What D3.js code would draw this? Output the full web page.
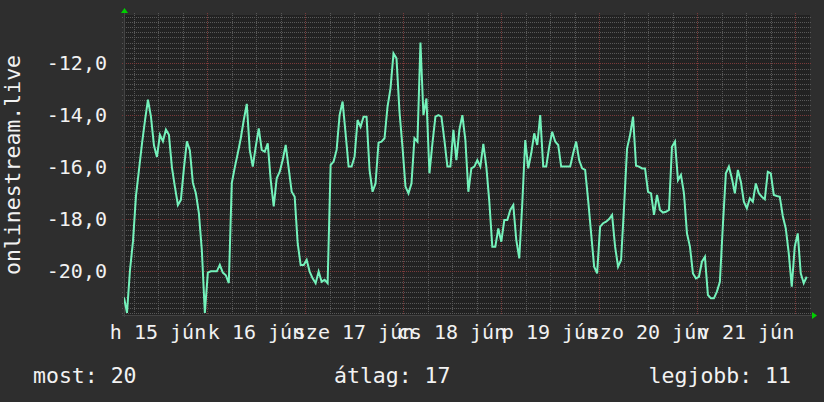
<!DOCTYPE html>
<html>
<head>
<meta charset="utf-8">
<script src="https://cdnjs.cloudflare.com/ajax/libs/d3/7.8.5/d3.min.js"></script>
<style>
  body { margin: 0; background: #2e2e2e; }
  text { font-family: "DejaVu Sans Mono", monospace; fill: #f2f2f2; }
</style>
</head>
<body>
<svg id="chart" width="824" height="402"></svg>
<script>
// onlinestream.live - one week, one sample every 44 minutes
var startTime = new Date(2020, 5, 15, 3, 40);
var endTime = new Date(2020, 5, 22, 3, 40);
var stepMinutes = 44;

var values = [
  -21.0, -21.6, -19.95, -18.85, -17.1, -16.1, -15.1, -14.2, -13.4, -14.05,
  -15.15, -15.6, -14.75, -15.0, -14.55, -14.75, -16.0, -16.75, -17.45, -17.25,
  -16.05, -15.0, -15.35, -16.6, -17.0, -17.75, -19.2, -21.6, -20.05, -20.0,
  -20.0, -20.0, -19.75, -20.05, -20.15, -20.45, -16.6, -16.0,
  // k 16
  -15.46, -14.88, -14.18, -13.56, -15.33, -15.97, -15.2, -14.5, -15.33, -15.4,
  -15.08, -16.5, -17.5, -16.42, -16.17, -15.72, -15.14, -16.04, -16.94, -17.13,
  -18.92, -19.76, -19.76, -19.56, -20.01, -20.27, -20.46, -20.01, -20.4, -20.33,
  -20.46, -15.91, -15.78, -15.33, -13.99, -13.47, -14.69, -15.97,
  // sze 17
  -15.97, -15.59, -14.18, -14.44, -14.05, -14.05, -16.1, -16.94, -16.62, -15.05,
  -15.01, -14.88, -13.67, -12.96, -11.62, -11.81, -13.86, -15.21, -16.74, -17.0,
  -16.62, -14.88, -15.01, -11.2, -13.99, -13.35, -16.23, -15.08, -14.05, -13.99,
  -14.05, -14.95, -15.97, -15.97, -14.56, -15.72, -14.56, -13.99,
  // cs 18
  -14.95, -16.94, -16.04, -15.97, -15.72, -15.97, -15.1, -15.97, -17.32, -19.05,
  -19.05, -18.35, -18.86, -18.03, -18.03, -17.64, -17.45, -18.79, -19.5, -17.4,
  -14.95, -16.04, -15.46, -14.69, -15.14, -13.99, -15.97, -15.97, -15.21, -14.63,
  -15.01, -15.14, -15.97, -15.97, -15.97, -15.97, -15.46, -15.01,
  // p 19
  -15.72, -16.04, -16.1, -17.26, -18.54, -19.82, -20.08, -18.28, -18.15, -18.09,
  -17.99, -17.83, -19.05, -19.82, -19.56, -17.51, -15.27, -14.76, -14.05, -15.94,
  -15.97, -16.04, -16.04, -16.94, -17.0, -17.83, -17.06, -17.64, -17.74, -17.71,
  -17.64, -15.21, -15.01, -16.49, -16.29, -17.0, -18.54, -19.05,
  // szo 20
  -20.08, -20.27, -20.21, -19.63, -19.44, -20.91, -21.04, -21.04, -20.78, -20.4,
  -18.22, -16.23, -15.97, -16.42, -17.0, -16.1, -16.55, -17.32, -17.58, -17.19,
  -17.32, -16.62, -17.0, -17.13, -17.23, -16.17, -16.23, -17.06, -17.1, -17.13,
  -17.87, -18.35, -19.31, -20.59, -19.05, -18.54, -20.08, -20.46, -20.21
];

var yTicks = [-20, -18, -16, -14, -12];
var dayLabels = ["h 15 jún", "k 16 jún", "sze 17 jún", "cs 18 jún", "p 19 jún", "szo 20 jún", "v 21 jún"];
var yTitle = "onlinestream.live";
var legend = [
  { text: "most: 20", anchor: "start" },
  { text: "átlag: 17", anchor: "start" },
  { text: "legjobb: 11", anchor: "end" }
];

var data = values.map(function (v, i) {
  return { t: d3.timeMinute.offset(startTime, i * stepMinutes), v: v };
});

var svg = d3.select("#chart"),
    plot = { left: 124, top: 15, right: 810, bottom: 315 };

var x = d3.scaleTime().domain([startTime, endTime]).range([plot.left, plot.right]);
var y = d3.scaleLinear().domain([-21.68, -10.14]).range([plot.bottom, plot.top]);

var huFormat = d3.formatLocale({ decimal: ",", thousands: " ", grouping: [3], currency: ["", ""], minus: "-" }).format(".1f");

svg.append("rect")
    .attr("x", plot.left)
    .attr("y", plot.top)
    .attr("width", plot.right - plot.left)
    .attr("height", plot.bottom - plot.top)
    .attr("fill", "#222222");

// grid: minor every 0.2 and 6h, major every 2 and 24h
var minorY = d3.range(-21.6, -10.1, 0.2).filter(function (v) {
  return Math.abs(Math.round(v / 2) * 2 - v) > 0.01;
});
var minorX = d3.timeHour.every(6).range(startTime, endTime).filter(function (d) { return d.getHours() !== 0; });
var majorX = d3.timeDay.range(startTime, endTime);

var grid = svg.append("g").attr("stroke-dasharray", "1,1").attr("shape-rendering", "crispEdges");

grid.selectAll(".hminor").data(minorY).enter().append("line")
    .attr("x1", plot.left - 2).attr("x2", plot.right + 2)
    .attr("y1", function (d) { return Math.round(y(d)) + 0.5; })
    .attr("y2", function (d) { return Math.round(y(d)) + 0.5; })
    .attr("stroke", "#585858");

grid.selectAll(".vminor").data(minorX).enter().append("line")
    .attr("y1", plot.top - 2).attr("y2", plot.bottom + 2)
    .attr("x1", function (d) { return Math.round(x(d)) + 0.5; })
    .attr("x2", function (d) { return Math.round(x(d)) + 0.5; })
    .attr("stroke", "#585858");

grid.selectAll(".hmajor").data(yTicks).enter().append("line")
    .attr("x1", plot.left - 2).attr("x2", plot.right + 2)
    .attr("y1", function (d) { return Math.round(y(d)) + 0.5; })
    .attr("y2", function (d) { return Math.round(y(d)) + 0.5; })
    .attr("stroke", "#7a3a3a");

grid.selectAll(".vmajor").data(majorX).enter().append("line")
    .attr("y1", plot.top - 2).attr("y2", plot.bottom + 2)
    .attr("x1", function (d) { return Math.round(x(d)) + 0.5; })
    .attr("x2", function (d) { return Math.round(x(d)) + 0.5; })
    .attr("stroke", "#7a3a3a");

// axes
svg.append("line")
    .attr("x1", plot.left - 2).attr("x2", plot.right + 4)
    .attr("y1", plot.bottom + 0.5).attr("y2", plot.bottom + 0.5)
    .attr("stroke", "#444");
svg.append("line")
    .attr("x1", plot.left + 0.5).attr("x2", plot.left + 0.5)
    .attr("y1", plot.top - 3).attr("y2", plot.bottom + 2)
    .attr("stroke", "#444");
svg.append("path")
    .attr("d", "M" + (plot.left - 3) + "," + (plot.top - 2) + "L" + (plot.left + 4) + "," + (plot.top - 2) + "L" + (plot.left + 0.5) + "," + (plot.top - 7) + "Z")
    .attr("fill", "#00d000");
svg.append("path")
    .attr("d", "M" + (plot.right + 2) + "," + (plot.bottom - 3) + "L" + (plot.right + 2) + "," + (plot.bottom + 4) + "L" + (plot.right + 7) + "," + (plot.bottom + 0.5) + "Z")
    .attr("fill", "#00d000");

// y tick labels
svg.selectAll(".ylabel").data(yTicks).enter().append("text")
    .attr("x", 107)
    .attr("y", function (d) { return y(d) + 7; })
    .attr("text-anchor", "end")
    .attr("font-size", 20)
    .text(huFormat);

// day labels, centred on noon
svg.selectAll(".xlabel").data(dayLabels).enter().append("text")
    .attr("x", function (d, i) { return x(d3.timeHour.offset(new Date(2020, 5, 15 + i), 12)); })
    .attr("y", 339)
    .attr("text-anchor", "middle")
    .attr("font-size", 20)
    .text(function (d) { return d; });

svg.append("text")
    .attr("transform", "translate(20,165) rotate(-90)")
    .attr("text-anchor", "middle")
    .attr("font-size", 21.5)
    .text(yTitle);

svg.selectAll(".legend").data(legend).enter().append("text")
    .attr("x", function (d, i) { return [33, 334, 791][i]; })
    .attr("y", 383)
    .attr("text-anchor", function (d) { return d.anchor; })
    .attr("font-size", 21.5)
    .text(function (d) { return d.text; });

// the series
var line = d3.line()
    .x(function (d) { return x(d.t); })
    .y(function (d) { return y(d.v); });

svg.append("defs").append("clipPath")
    .attr("id", "clip")
    .append("rect")
    .attr("x", plot.left)
    .attr("y", plot.top)
    .attr("width", plot.right - plot.left)
    .attr("height", plot.bottom - plot.top + 1);

svg.append("path")
    .datum(data)
    .attr("clip-path", "url(#clip)")
    .attr("fill", "none")
    .attr("stroke", "#74f2bb")
    .attr("stroke-width", 2)
    .attr("stroke-linejoin", "miter")
    .attr("d", line);
</script>
</body>
</html>
